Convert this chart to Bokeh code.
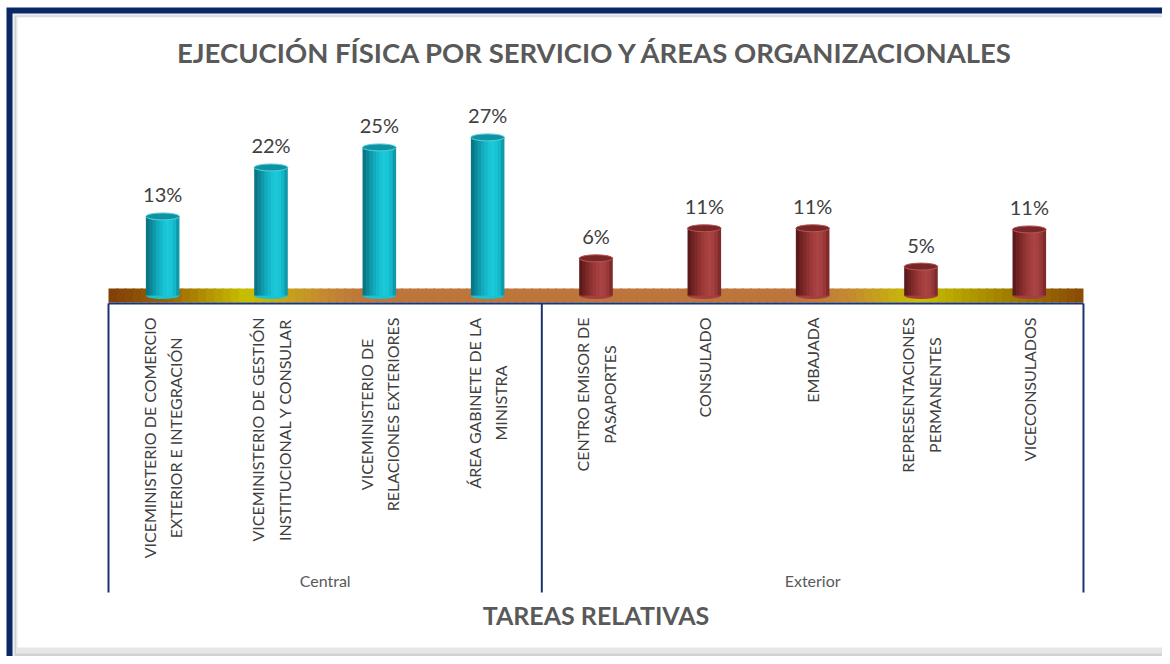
import numpy as np
from math import pi
from bokeh.plotting import figure
from bokeh.models import Range1d, ColumnDataSource
from bokeh.transform import dodge
from bokeh.core.properties import value
from bokeh.embed import file_html
from bokeh.resources import INLINE

# ---------------- data ----------------
title_text = "EJECUCIÓN FÍSICA POR SERVICIO Y ÁREAS ORGANIZACIONALES"
axis_title = "TAREAS RELATIVAS"
groups = ["Central", "Exterior"]
central_labels = [
    "VICEMINISTERIO DE COMERCIO\nEXTERIOR E INTEGRACIÓN",
    "VICEMINISTERIO DE GESTIÓN\nINSTITUCIONAL Y CONSULAR",
    "VICEMINISTERIO DE\nRELACIONES EXTERIORES",
    "ÁREA GABINETE DE LA\nMINISTRA",
]
central_values = [13.4, 21.7, 25.1, 26.8]
exterior_labels = [
    "CENTRO EMISOR DE\nPASAPORTES",
    "CONSULADO",
    "EMBAJADA",
    "REPRESENTACIONES\nPERMANENTES",
    "VICECONSULADOS",
]
exterior_values = [6.3, 11.4, 11.4, 4.9, 11.2]

# ---------------- layout helpers ----------------
W, H = 1162, 656
UNIT = 108.33        # px per category
X0 = 108             # px of the category-axis start
PXPER = 5.9          # px per percent
BASE_PY = 295        # px of 0 %

n_c = len(central_labels)
n_e = len(exterior_labels)
n_tot = n_c + n_e


def ydat(py):
    return (BASE_PY - py) / PXPER


def xdat(px):
    return (px - X0) / UNIT


p = figure(width=W, height=H, x_range=Range1d(xdat(0), xdat(W)), y_range=Range1d(ydat(H), ydat(0)),
           output_backend="svg", toolbar_location=None,
           x_axis_location=None, y_axis_location=None,
           min_border=0, min_border_left=0, min_border_top=0,
           min_border_right=0, min_border_bottom=0)
p.border_fill_color = "#ffffff"
p.background_fill_color = "#ffffff"
p.outline_line_color = None
p.xgrid.visible = False
p.ygrid.visible = False

FONT = value("Lato")

# ---------------- frame / panel ----------------
FAR = W + 20
p.quad(left=[xdat(6)], right=[xdat(FAR)], top=[ydat(7)], bottom=[ydat(H + 20)],
       fill_color="#0b2866", line_color=None)
p.quad(left=[xdat(12)], right=[xdat(FAR)], top=[ydat(13)], bottom=[ydat(H + 20)],
       fill_color="#efefef", line_color=None)
p.quad(left=[xdat(14)], right=[xdat(FAR)], top=[ydat(15)], bottom=[ydat(660)],
       fill_color="#d2d2d2", line_color=None)
p.quad(left=[xdat(15.5)], right=[xdat(FAR)], top=[ydat(16)], bottom=[ydat(653)],
       fill_color="#e6e6e6", line_color=None)
p.quad(left=[xdat(17)], right=[xdat(FAR)], top=[ydat(17)], bottom=[ydat(647)],
       fill_color="#ffffff", line_color=None)

# ---------------- floor band (gradient) ----------------
stops = [(0.0, "#7f3f08"), (0.06, "#9a6205"), (0.14, "#c8c000"), (0.22, "#c48a30"),
         (0.26, "#bd753c"), (0.71, "#bd753c"), (0.76, "#c48a30"), (0.83, "#c8c000"),
         (0.92, "#a08000"), (1.0, "#8a4a06")]


def hex2rgb(h):
    return np.array([int(h[i:i + 2], 16) for i in (1, 3, 5)], dtype=float)


sf = np.array([s[0] for s in stops])
sc = np.array([hex2rgb(s[1]) for s in stops])
NSEG = 120
edges = np.linspace(0, 1, NSEG + 1)
mids = (edges[:-1] + edges[1:]) / 2
cols = []
for m in mids:
    rgb = [np.interp(m, sf, sc[:, k]) for k in range(3)]
    cols.append("#%02x%02x%02x" % tuple(int(round(v)) for v in rgb))
right_edges = list(edges[1:] * n_tot + 0.015)
right_edges[-1] = n_tot
p.quad(left=list(edges[:-1] * n_tot), right=right_edges,
       top=ydat(288), bottom=ydat(302), fill_color=cols, line_color=None)

# ---------------- category box lines ----------------
NAVY = "#1a3570"
p.segment(x0=[0], x1=[n_tot], y0=[ydat(303)], y1=[ydat(303)], line_color=NAVY, line_width=2)
bounds = [0, n_c, n_tot]
p.segment(x0=bounds, x1=bounds, y0=[ydat(303)] * 3, y1=[ydat(592)] * 3, line_color=NAVY, line_width=2)

# ---------------- cylinders ----------------
teal_strips = ["#0a7584", "#0c8797", "#0f9aab", "#12aabc", "#15b8ca",
               "#18c3d4", "#1bc9da", "#19c4d5", "#15b6c7", "#1099aa"]
red_strips = ["#5e1a1a", "#6e2222", "#7f2929", "#8e3131", "#9b3838",
              "#a53f3f", "#aa4444", "#a54040", "#973737", "#7f2b2b"]
CW = 0.31
ELL = 7


def cylinders(labels, vals, start, strips, top_col, rim_col):
    src = ColumnDataSource(dict(
        x=[start + i + 0.5 for i in range(len(vals))],
        top=vals,
        lbl=["%d%%" % int(round(v)) for v in vals],
        cat=labels,
    ))
    p.ellipse(x="x", y=0, width=CW, height=ELL, height_units="screen",
              fill_color=strips[5], line_color=None, source=src)
    n = len(strips)
    for k, col in enumerate(strips):
        off = -CW / 2 + (k + 0.5) * CW / n
        w = CW / n + (0.012 if k < n - 1 else 0)
        p.vbar(x=dodge("x", off + (0.006 if k < n - 1 else 0)), top="top", bottom=0,
               width=w, fill_color=col, line_color=None, source=src)
    p.ellipse(x="x", y="top", width=CW, height=ELL, height_units="screen",
              fill_color=top_col, line_color=rim_col, line_width=1, source=src)
    p.text(x="x", y="top", text="lbl", y_offset=-22, text_align="center",
           text_baseline="alphabetic", text_font=FONT, text_font_size="20px",
           text_color="#404040", source=src)
    p.text(x="x", y=ydat(317), text="cat", angle=pi / 2, anchor="center_right",
           text_align="center", text_baseline="middle", text_font=FONT,
           text_font_size="16px", text_line_height=1.4, text_color="#404040", source=src)


cylinders(central_labels, central_values, 0, teal_strips, "#0f93a3", "#56cfdc")
cylinders(exterior_labels, exterior_values, n_c, red_strips, "#7a2626", "#b45858")

# ---------------- group labels & titles ----------------
p.text(x=[n_c / 2, n_c + n_e / 2], y=[ydat(580)] * 2, text=groups, text_align="center",
       text_baseline="middle", text_font=FONT, text_font_size="16px", text_color="#595959")
p.text(x=[n_tot / 2], y=[ydat(52)], text=[title_text], text_align="center", text_baseline="middle",
       text_font=FONT, text_font_size="27.5px", text_font_style="bold", text_color="#595959")
p.text(x=[n_tot / 2], y=[ydat(614)], text=[axis_title], text_align="center", text_baseline="middle",
       text_font=FONT, text_font_size="25px", text_font_style="bold", text_color="#595959")

open("out.html", "w").write(file_html(p, INLINE))
